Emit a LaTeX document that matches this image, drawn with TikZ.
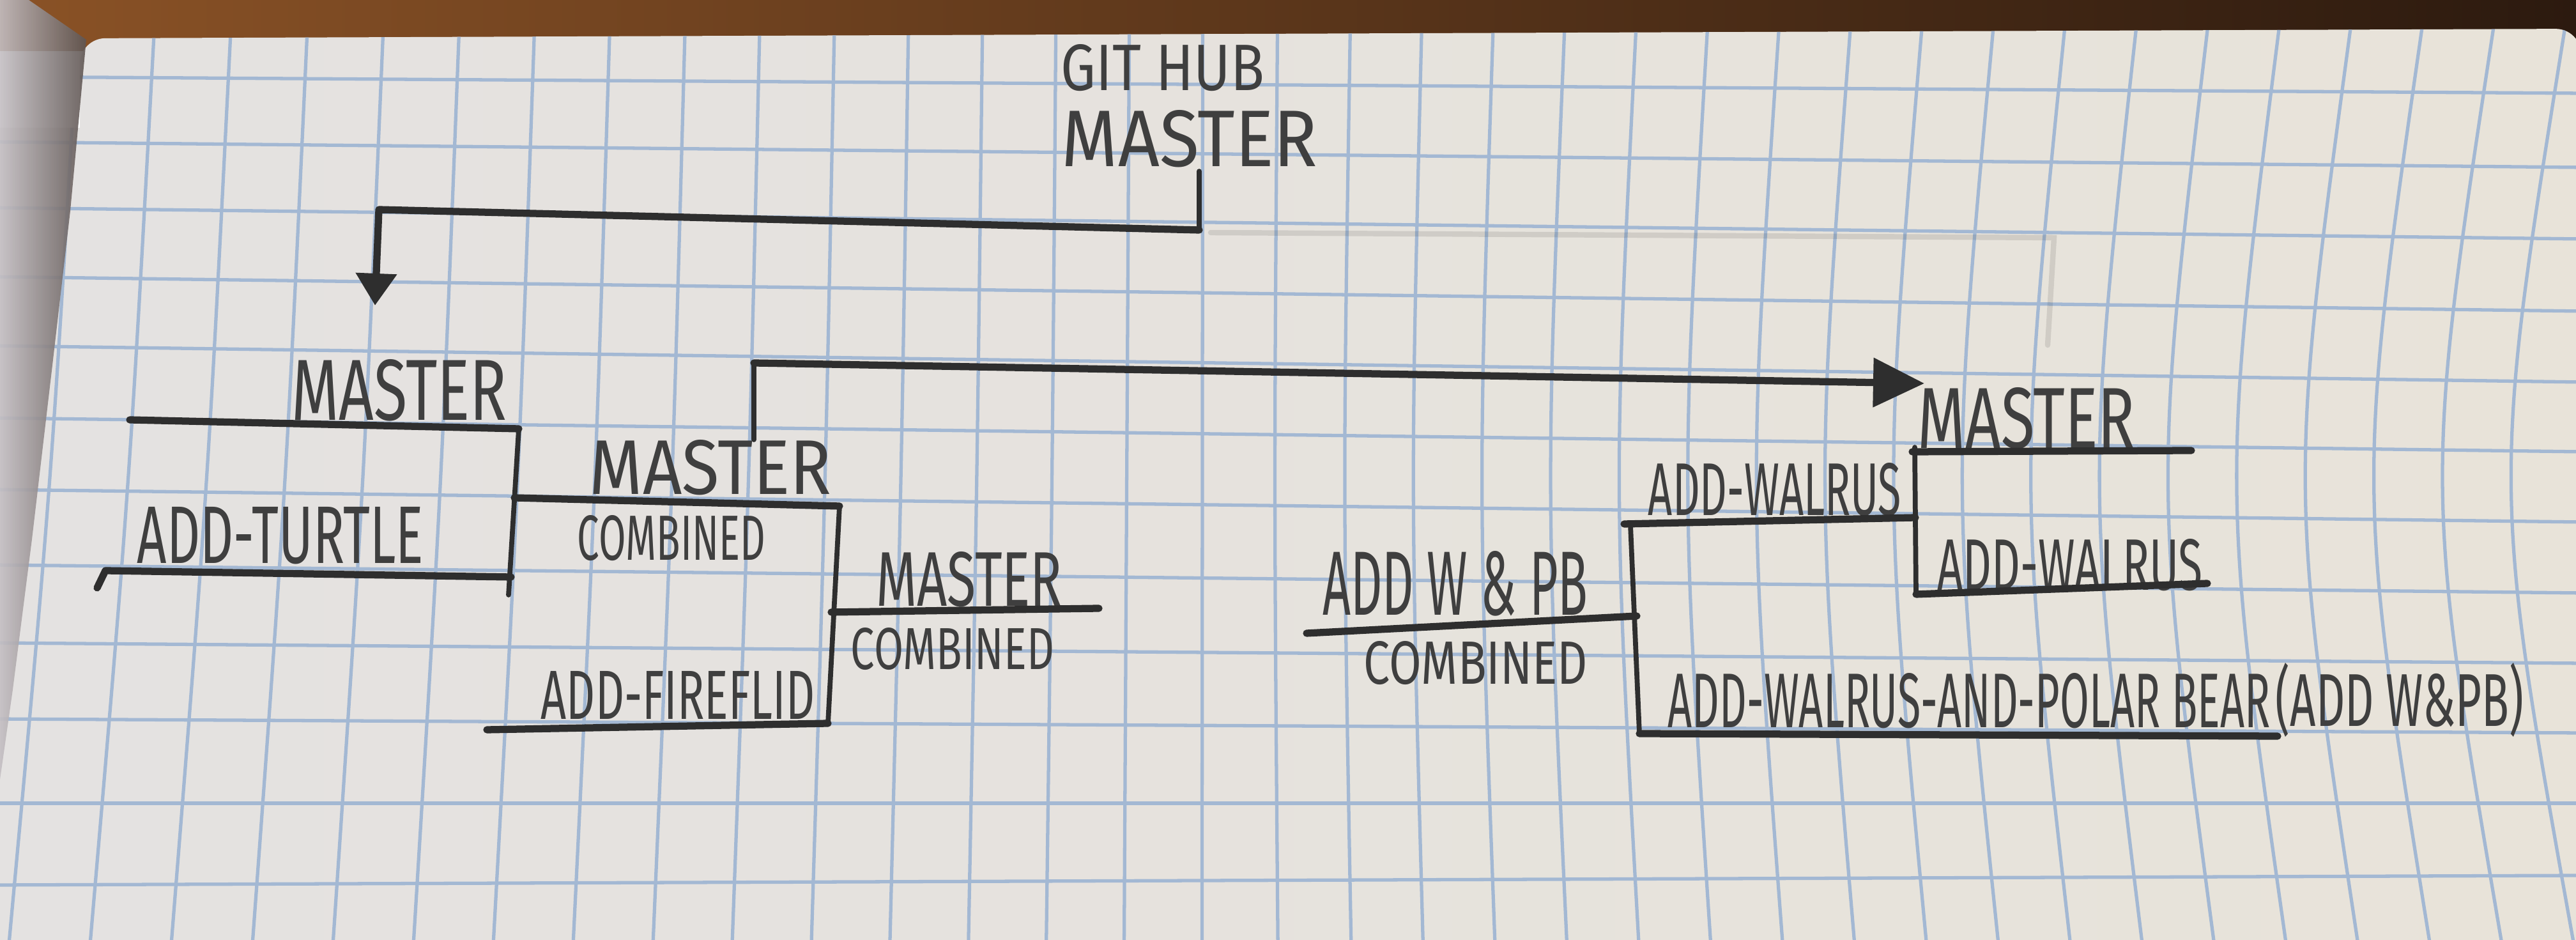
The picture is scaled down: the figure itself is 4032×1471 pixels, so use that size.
\documentclass[tikz,border=0pt]{standalone}
\usepackage{fontspec}
\usepackage{graphicx}
\usepackage{tikz}
\usetikzlibrary{arrows.meta}
\setmainfont{Fira Sans}
\newfontfamily\penfont{Fira Sans}
\definecolor{PaperL}{HTML}{E4E2E1}
\definecolor{PaperR}{HTML}{E8E3D9}
\definecolor{GridBlue}{HTML}{A3B8D3}
\definecolor{Pencil}{HTML}{2E2E2E}
\definecolor{WoodA}{HTML}{8A5226}
\definecolor{WoodB}{HTML}{2C1A0F}
\definecolor{LeftPage}{HTML}{C4BFC3}
\definecolor{Spine}{HTML}{5F5552}
% squeeze a label into a w x h box (cm)
\newcommand{\fitw}[3]{\resizebox{#1cm}{#2cm}{#3}}
\newcommand{\fitt}[3]{\resizebox*{#1cm}{#2cm}{#3}}

\begin{document}
\begin{tikzpicture}[x=0.01cm, y=-0.01cm,
  pen/.style={draw=Pencil, line width=3.2pt, line cap=round, line join=round},
  stem/.style={draw=Pencil, line width=2.2pt, line cap=round},
  faint/.style={draw=Pencil, line width=2.4pt, opacity=0.12, line cap=round},
  gridln/.style={draw=GridBlue, line width=1.5pt},
  lbl/.style={inner sep=0pt, text=Pencil!92, font=\penfont}]
  \useasboundingbox (0,0) rectangle (4032,1471);
  % table and page
  \shade[left color=WoodA, right color=WoodB] (0,0) rectangle (4032,80);
  \shade[left color=PaperL, right color=PaperR]
    (0,1490) -- (0,200) -- (125,200) {[rounded corners=4mm] -- (125,60) -- (4040,45)} -- (4040,1490) -- cycle;
  \begin{scope}
    \clip (0,1490) -- (0,200) -- (125,200) {[rounded corners=4mm] -- (125,60) -- (4040,45)} -- (4040,1490) -- cycle;
    \foreach \yl/\yr in {120/146, 222/262, 325/374, 433/487, 541/598, 654/707,
                         766/817, 884/928, 1006/1038, 1125/1147, 1257/1257, 1385/1370}
      \draw[gridln] (-10,\yl) -- (4042,\yr);
    \foreach \m in {74,197,320,443,565,687,808,929,1050,1170,1290,1409,1528,1646,1764,1882,
                    1997,2108,2217,2326,2435,2544,2653,2762,2871,2980,3089,3198,3307,3416,
                    3525,3634,3743,3852,3961,4070} {
      \pgfmathsetmacro\xt{\m+abs(\m-1900)/38}
      \pgfmathsetmacro\xb{\m+0.033*(\m-1900)}
      \pgfmathsetmacro\xc{\m-(\xt-\m+\xb-\m)/2}
      \draw[gridln] (\xt,40) .. controls (\xc,760) .. (\xb,1480);
    }
  \end{scope}
  \shade[left color=LeftPage, right color=Spine, opacity=0.9]
    (0,0) -- (45,0) -- (135,62) -- (110,330) -- (83,563) -- (50,844) -- (20,1079) -- (0,1220) -- cycle;

  % labels
  \node[lbl] (gh)     at (1820,106)  {\fitw{3.18}{0.72}{GIT HUB}};
  \node[lbl] (ghm)    at (1862,217)  {\fitw{4.00}{0.88}{MASTER}};
  \node[lbl] (lm)     at (625,611)   {\fitw{3.37}{0.95}{MASTER}};
  \node[lbl] (turtle) at (439,838)   {\fitw{4.48}{0.88}{ADD-TURTLE}};
  \node[lbl] (cm)     at (1112,732)  {\fitw{3.78}{0.85}{MASTER}};
  \node[lbl] (cmc)    at (1051,842)  {\fitw{2.94}{0.70}{COMBINED}};
  \node[lbl] (fire)   at (1061,1088) {\fitw{4.28}{0.75}{ADD-FIREFLID}};
  \node[lbl] (fm)     at (1517,907)  {\fitw{2.91}{0.85}{MASTER}};
  \node[lbl] (fmc)    at (1491,1016) {\fitw{3.18}{0.65}{COMBINED}};
  \node[lbl] (wpb)    at (2278,913)  {\fitw{4.15}{1.00}{ADD W \& PB}};
  \node[lbl] (wpbc)   at (2310,1038) {\fitw{3.50}{0.67}{COMBINED}};
  \node[lbl] (wal)    at (2778,766)  {\fitw{3.96}{0.82}{ADD-WALRUS}};
  \node[lbl] (rm)     at (3172,655)  {\fitw{3.40}{0.95}{MASTER}};
  \node[lbl] (walr)   at (3240,884)  {\fitw{4.15}{0.80}{ADD-WALRUS}};
  \node[lbl] (bear)   at (3082,1097) {\fitw{9.42}{0.85}{ADD-WALRUS-AND-POLAR BEAR}};
  \node[lbl] (bearab) at (3756,1095) {\fitt{3.88}{1.16}{(ADD W\&PB)}};

  % github master pulled into local master
  \coordinate (ghs)   at (1877,268);
  \coordinate (ghk)   at (1877,360);
  \coordinate (lmk)   at (593,328);
  \coordinate (lmtip) at (587,478);
  \draw[stem] (ghs) -- (ghk);
  \draw[pen, -{Triangle[length=5mm,width=6.2mm]}] (ghk) -- (lmk) -- (lmtip);
  % old line, rubbed out
  \coordinate (erA) at (1895,364);
  \coordinate (erB) at (3215,372);
  \coordinate (erC) at (3205,540);
  \draw[faint] (erA) -- (erB) -- (erC);

  % local master + add-turtle
  \coordinate (lmL) at (203,657);
  \coordinate (lmR) at (812,671);
  \coordinate (tuH) at (152,920);
  \coordinate (tuL) at (165,893);
  \coordinate (tuR) at (800,903);
  \coordinate (tuE) at (796,931);
  \coordinate (j1)  at (805,779);
  \draw[pen] (lmL) -- (lmR);
  \draw[stem] (lmR) -- (tuE);
  \draw[pen] (tuH) -- (tuL) -- (tuR);
  % combined master + add-fireflid
  \coordinate (cmR) at (1314,792);
  \coordinate (fiL) at (762,1142);
  \coordinate (fiR) at (1296,1132);
  \coordinate (j2)  at (1301,958);
  \coordinate (fmR) at (1720,952);
  \draw[pen] (j1) -- (cmR);
  \draw[stem] (cmR) -- (fiR);
  \draw[pen] (fiL) -- (fiR);
  \draw[pen] (j2) -- (fmR);
  % pushed up to the walrus master
  \coordinate (cmU)   at (1180,688);
  \coordinate (cmK)   at (1180,568);
  \coordinate (rmtip) at (3012,600);
  \draw[stem] (cmU) -- (cmK);
  \draw[pen, -{Triangle[length=8mm,width=7.5mm]}] (cmK) -- (rmtip);

  % add w & pb side
  \coordinate (wbL) at (2045,991);
  \coordinate (wbR) at (2562,964);
  \coordinate (lvT) at (2552,822);
  \coordinate (lvB) at (2566,1148);
  \coordinate (waL) at (2542,820);
  \coordinate (waR) at (2998,810);
  \coordinate (beR) at (3565,1152);
  \draw[pen] (wbL) -- (wbR);
  \draw[stem] (lvT) -- (lvB);
  \draw[pen] (waL) -- (waR);
  \draw[pen] (lvB) -- (beR);
  % walrus master + add-walrus
  \coordinate (rvT) at (2997,700);
  \coordinate (rvB) at (2999,930);
  \coordinate (rmL) at (2993,707);
  \coordinate (rmR) at (3430,705);
  \coordinate (wrR) at (3455,913);
  \draw[stem] (rvT) -- (rvB);
  \draw[pen] (rmL) -- (rmR);
  \draw[pen] (rvB) -- (wrR);
\end{tikzpicture}
\end{document}
